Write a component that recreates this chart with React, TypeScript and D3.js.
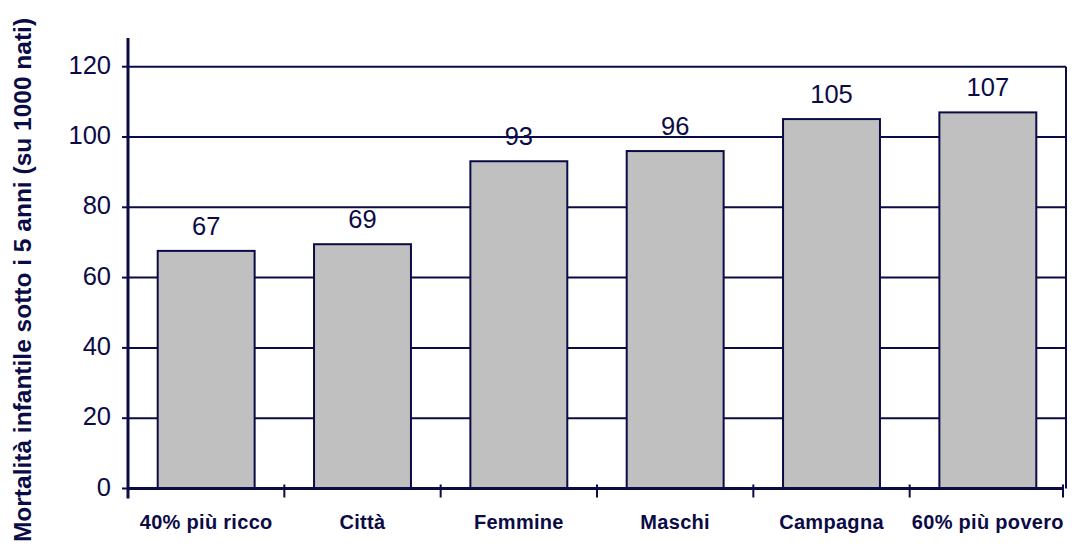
import * as d3 from 'd3';
import { useRef, useEffect } from 'react';

const categories = ['40% più ricco', 'Città', 'Femmine', 'Maschi', 'Campagna', '60% più povero'];
const values = [67.6, 69.5, 93.1, 96, 105.1, 107];
const valueLabels = ['67', '69', '93', '96', '105', '107'];
const yTicks = [0, 20, 40, 60, 80, 100, 120];
const yTitle = 'Mortalità infantile sotto i 5 anni (su 1000 nati)';

const NAVY = '#0b0b45';

export default function App() {
  const svgRef = useRef<SVGSVGElement | null>(null);

  useEffect(() => {
    const width = 1077;
    const height = 554;
    const left = 128;
    const right = 1066;
    const top = 66.7;
    const bottom = 488.5;

    const svg = d3.select(svgRef.current).attr('width', width).attr('height', height);
    svg.selectAll('*').remove();

    const x = d3.scaleBand<string>().domain(categories).range([left, right]).paddingInner(0.38).paddingOuter(0.19);
    const y = d3.scaleLinear().domain([0, 120]).range([bottom, top]);
    const step = (right - left) / categories.length;

    // Griglia
    yTicks.filter((t) => t > 0).forEach((t) => {
      svg
        .append('line')
        .attr('x1', left)
        .attr('x2', right)
        .attr('y1', y(t))
        .attr('y2', y(t))
        .attr('stroke', NAVY)
        .attr('stroke-width', 2);
    });

    // Bordo destro
    svg
      .append('line')
      .attr('x1', right)
      .attr('x2', right)
      .attr('y1', y(120))
      .attr('y2', y(0))
      .attr('stroke', NAVY)
      .attr('stroke-width', 2);

    // Barre
    categories.forEach((c, i) => {
      svg
        .append('rect')
        .attr('x', x(c)!)
        .attr('y', y(values[i]))
        .attr('width', x.bandwidth())
        .attr('height', y(0) - y(values[i]))
        .attr('fill', '#c0c0c0')
        .attr('stroke', NAVY)
        .attr('stroke-width', 2);

      svg
        .append('text')
        .attr('x', x(c)! + x.bandwidth() / 2)
        .attr('y', y(values[i]) - 16)
        .attr('text-anchor', 'middle')
        .attr('font-family', 'Liberation Sans, Arial, sans-serif')
        .attr('font-size', '25.5px')
        .attr('fill', NAVY)
        .text(valueLabels[i]);

      svg
        .append('text')
        .attr('x', x(c)! + x.bandwidth() / 2)
        .attr('y', 529)
        .attr('text-anchor', 'middle')
        .attr('font-family', 'Liberation Sans, Arial, sans-serif')
        .attr('font-weight', 'bold')
        .attr('font-size', '20px')
        .attr('letter-spacing', '0.3px')
        .attr('fill', NAVY)
        .text(c);
    });

    // Asse Y
    svg
      .append('line')
      .attr('x1', left)
      .attr('x2', left)
      .attr('y1', 38)
      .attr('y2', bottom + 10)
      .attr('stroke', NAVY)
      .attr('stroke-width', 3);

    yTicks.forEach((t) => {
      svg
        .append('line')
        .attr('x1', left - 6)
        .attr('x2', left)
        .attr('y1', y(t))
        .attr('y2', y(t))
        .attr('stroke', NAVY)
        .attr('stroke-width', 2);

      svg
        .append('text')
        .attr('x', 111)
        .attr('y', y(t) + 7)
        .attr('text-anchor', 'end')
        .attr('font-family', 'Liberation Sans, Arial, sans-serif')
        .attr('font-size', '25.5px')
        .attr('fill', NAVY)
        .text(t);
    });

    // Asse X
    svg
      .append('line')
      .attr('x1', left)
      .attr('x2', right - 2)
      .attr('y1', bottom)
      .attr('y2', bottom)
      .attr('stroke', NAVY)
      .attr('stroke-width', 3);

    d3.range(1, categories.length + 1).forEach((i) => {
      const tx = left + step * i - (i === categories.length ? 3 : 0);
      svg
        .append('line')
        .attr('x1', tx)
        .attr('x2', tx)
        .attr('y1', bottom - 4)
        .attr('y2', bottom + 9)
        .attr('stroke', NAVY)
        .attr('stroke-width', 2);
    });

    // Titolo asse Y
    svg
      .append('text')
      .attr('transform', `translate(31, 280) rotate(-90)`)
      .attr('text-anchor', 'middle')
      .attr('font-family', 'Liberation Sans, Arial, sans-serif')
      .attr('font-weight', 'bold')
      .attr('font-size', '24.5px')
      .attr('fill', NAVY)
      .text(yTitle);
  }, []);

  return (
    <div style={{ position: 'absolute', left: 0, top: 0 }}>
      <svg ref={svgRef} style={{ display: 'block' }} />
    </div>
  );
}
